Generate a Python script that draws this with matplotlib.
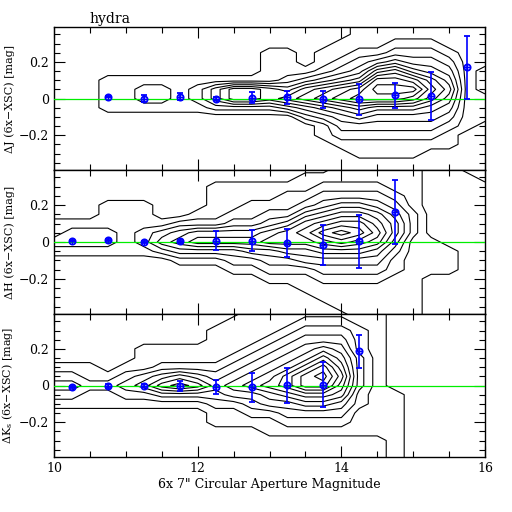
import numpy as np
import matplotlib.pyplot as plt
from matplotlib.ticker import MultipleLocator, FixedLocator, FuncFormatter

plt.rcParams['font.family'] = ['DejaVu Serif']
plt.rcParams['mathtext.fontset'] = 'dejavuserif'

# grid on which the density levels were read (columns = magnitude, rows = delta)
grid_x = [10.0, 10.25, 10.5, 10.75, 11.0, 11.25, 11.5, 11.75, 12.0, 12.25, 12.5, 12.75,
          13.0, 13.25, 13.5, 13.75, 14.0, 14.25, 14.5, 14.75, 15.0, 15.25, 15.5, 15.75, 16.0]
grid_y = [0.40, 0.35, 0.30, 0.25, 0.20, 0.15, 0.10, 0.05, 0.00,
          -0.05, -0.10, -0.15, -0.20, -0.25, -0.30, -0.35, -0.40]

# contour level reached in each cell, one list per column (top row first)
j_levels = [
    [0, 0, 0, 0, 0, 0, 0, 0, 0, 0, 0, 0, 0, 0, 0, 0, 0],
    [0, 0, 0, 0, 0, 0, 0, 0, 0, 0, 0, 0, 0, 0, 0, 0, 0],
    [0, 0, 0, 0, 0, 0, 0, 0, 0, 0, 0, 0, 0, 0, 0, 0, 0],
    [0, 0, 0, 0, 0, 0, 1, 1, 1, 1, 0, 0, 0, 0, 0, 0, 0],
    [0, 0, 0, 0, 0, 0, 1, 1, 1, 1, 0, 0, 0, 0, 0, 0, 0],
    [0, 0, 0, 0, 0, 0, 1, 2, 2, 1, 0, 0, 0, 0, 0, 0, 0],
    [0, 0, 0, 0, 0, 0, 1, 2, 2, 1, 0, 0, 0, 0, 0, 0, 0],
    [0, 0, 0, 0, 0, 0, 1, 1, 1, 1, 0, 0, 0, 0, 0, 0, 0],
    [0, 0, 0, 0, 0, 0, 1, 2, 2, 1, 0, 0, 0, 0, 0, 0, 0],
    [0, 0, 0, 0, 0, 0, 1, 4, 4, 2, 0, 0, 0, 0, 0, 0, 0],
    [0, 0, 0, 0, 0, 0, 1, 6, 6, 2, 0, 0, 0, 0, 0, 0, 0],
    [0, 0, 0, 0, 0, 0, 1, 6, 6, 2, 0, 0, 0, 0, 0, 0, 0],
    [0, 0, 0, 1, 1, 1, 1, 5, 5, 2, 0, 0, 0, 0, 0, 0, 0],
    [0, 0, 0, 1, 1, 1, 2, 4, 6, 3, 0, 0, 0, 0, 0, 0, 0],
    [0, 0, 0, 0, 0, 1, 3, 6, 7, 4, 2, 0, 0, 0, 0, 0, 0],
    [0, 0, 0, 1, 1, 2, 4, 7, 8, 5, 3, 1, 1, 0, 0, 0, 0],
    [0, 0, 1, 1, 2, 3, 5, 8, 9, 6, 4, 3, 2, 1, 0, 0, 0],
    [1, 1, 1, 2, 3, 4, 6, 9, 10, 7, 5, 3, 2, 1, 1, 0, 0],
    [1, 1, 1, 2, 4, 7, 10, 11, 10, 6, 4, 3, 2, 1, 1, 0, 0],
    [1, 1, 2, 3, 5, 8, 10, 11, 10, 6, 4, 3, 2, 1, 1, 0, 0],
    [1, 1, 2, 3, 4, 6, 9, 11, 9, 6, 4, 3, 2, 1, 1, 0, 0],
    [1, 1, 2, 3, 4, 5, 7, 8, 7, 5, 4, 3, 2, 1, 0, 0, 0],
    [1, 1, 1, 2, 3, 4, 5, 6, 5, 4, 3, 2, 1, 1, 0, 0, 0],
    [1, 1, 1, 1, 1, 1, 1, 1, 1, 1, 1, 1, 0, 0, 0, 0, 0],
    [1, 1, 1, 1, 1, 2, 2, 2, 1, 1, 1, 0, 0, 0, 0, 0, 0],
]

h_levels = [
    [0, 0, 0, 0, 0, 0, 1, 1, 2, 1, 0, 0, 0, 0, 0, 0, 0],
    [0, 0, 0, 0, 0, 0, 1, 2, 2, 1, 0, 0, 0, 0, 0, 0, 0],
    [0, 0, 0, 0, 0, 0, 1, 2, 2, 1, 0, 0, 0, 0, 0, 0, 0],
    [0, 0, 0, 0, 1, 1, 1, 2, 2, 1, 0, 0, 0, 0, 0, 0, 0],
    [0, 0, 0, 0, 1, 1, 1, 1, 1, 1, 0, 0, 0, 0, 0, 0, 0],
    [0, 0, 0, 0, 1, 1, 1, 2, 2, 1, 0, 0, 0, 0, 0, 0, 0],
    [0, 0, 0, 0, 0, 0, 1, 3, 4, 2, 0, 0, 0, 0, 0, 0, 0],
    [0, 0, 0, 0, 0, 0, 2, 4, 5, 3, 1, 0, 0, 0, 0, 0, 0],
    [0, 0, 0, 0, 0, 1, 2, 5, 6, 3, 1, 0, 0, 0, 0, 0, 0],
    [0, 0, 1, 1, 1, 1, 2, 5, 6, 3, 1, 0, 0, 0, 0, 0, 0],
    [0, 0, 1, 1, 1, 2, 3, 5, 6, 3, 2, 1, 0, 0, 0, 0, 0],
    [0, 0, 1, 1, 2, 2, 3, 5, 6, 4, 2, 1, 0, 0, 0, 0, 0],
    [0, 0, 1, 1, 2, 3, 4, 6, 7, 4, 3, 2, 1, 0, 0, 0, 0],
    [0, 0, 1, 2, 2, 3, 5, 7, 7, 5, 3, 2, 1, 0, 0, 0, 0],
    [0, 1, 1, 2, 3, 5, 7, 8, 7, 5, 4, 2, 1, 1, 0, 0, 0],
    [0, 1, 2, 3, 4, 6, 8, 10, 8, 6, 4, 3, 2, 1, 1, 0, 0],
    [1, 1, 2, 3, 5, 7, 9, 11, 9, 6, 4, 3, 2, 1, 1, 1, 0],
    [1, 1, 2, 3, 5, 7, 9, 10, 8, 6, 4, 3, 2, 1, 1, 1, 1],
    [1, 1, 2, 3, 4, 6, 7, 8, 7, 5, 4, 3, 2, 1, 1, 1, 1],
    [1, 1, 1, 2, 3, 4, 5, 5, 4, 3, 2, 2, 1, 1, 1, 1, 1],
    [1, 1, 1, 1, 1, 2, 2, 2, 1, 1, 1, 1, 1, 1, 1, 1, 1],
    [0, 0, 0, 0, 0, 0, 0, 0, 1, 1, 1, 1, 0, 0, 0, 0, 0],
    [0, 0, 0, 0, 0, 0, 0, 0, 0, 1, 1, 1, 0, 0, 0, 0, 0],
    [1, 0, 0, 0, 0, 0, 0, 0, 0, 0, 0, 0, 0, 0, 0, 0, 0],
    [1, 1, 0, 0, 0, 0, 0, 0, 0, 0, 0, 0, 0, 0, 0, 0, 0],
]

k_levels = [
    [0, 0, 0, 0, 0, 0, 1, 2, 3, 2, 1, 0, 0, 0, 0, 0, 0],
    [0, 0, 0, 0, 0, 0, 1, 2, 3, 2, 1, 0, 0, 0, 0, 0, 0],
    [0, 0, 0, 0, 0, 0, 1, 1, 2, 1, 1, 0, 0, 0, 0, 0, 0],
    [0, 0, 0, 0, 0, 0, 0, 1, 2, 1, 1, 0, 0, 0, 0, 0, 0],
    [0, 0, 0, 0, 0, 0, 1, 2, 3, 2, 1, 0, 0, 0, 0, 0, 0],
    [0, 0, 0, 0, 1, 1, 1, 3, 4, 2, 1, 0, 0, 0, 0, 0, 0],
    [0, 0, 0, 0, 1, 1, 2, 4, 6, 3, 1, 0, 0, 0, 0, 0, 0],
    [0, 0, 0, 0, 1, 1, 2, 5, 7, 3, 1, 0, 0, 0, 0, 0, 0],
    [0, 0, 0, 0, 1, 1, 2, 4, 6, 3, 1, 0, 0, 0, 0, 0, 0],
    [0, 0, 1, 1, 1, 1, 2, 3, 4, 3, 2, 1, 1, 0, 0, 0, 0],
    [0, 1, 1, 1, 1, 2, 3, 4, 5, 4, 2, 1, 1, 0, 0, 0, 0],
    [1, 1, 1, 1, 2, 3, 4, 5, 6, 4, 3, 2, 1, 0, 0, 0, 0],
    [1, 1, 1, 2, 3, 4, 5, 6, 7, 5, 4, 2, 1, 1, 0, 0, 0],
    [1, 1, 2, 3, 4, 5, 6, 8, 8, 6, 4, 3, 2, 1, 0, 0, 0],
    [1, 2, 3, 4, 5, 6, 8, 10, 10, 7, 5, 3, 2, 1, 0, 0, 0],
    [1, 2, 3, 4, 6, 8, 10, 11, 10, 7, 5, 3, 2, 1, 0, 0, 0],
    [1, 2, 3, 4, 5, 6, 7, 8, 7, 6, 4, 3, 2, 1, 0, 0, 0],
    [1, 1, 2, 2, 2, 3, 3, 3, 3, 2, 2, 1, 1, 1, 0, 0, 0],
    [1, 1, 1, 1, 1, 1, 1, 1, 1, 1, 1, 1, 1, 1, 0, 0, 0],
    [0, 0, 0, 0, 0, 0, 0, 0, 0, 1, 1, 1, 1, 1, 1, 1, 1],
    [0, 0, 0, 0, 0, 0, 0, 0, 0, 0, 0, 0, 0, 0, 0, 0, 0],
    [0, 0, 0, 0, 0, 0, 0, 0, 0, 0, 0, 0, 0, 0, 0, 0, 0],
    [0, 0, 0, 0, 0, 0, 0, 0, 0, 0, 0, 0, 0, 0, 0, 0, 0],
    [0, 0, 0, 0, 0, 0, 0, 0, 0, 0, 0, 0, 0, 0, 0, 0, 0],
    [0, 0, 0, 0, 0, 0, 0, 0, 0, 0, 0, 0, 0, 0, 0, 0, 0],
]

# binned means with error bars
j_x = [10.75, 11.25, 11.75, 12.25, 12.75, 13.25, 13.75, 14.25, 14.75, 15.25, 15.75]
j_y = [0.01, 0.0, 0.01, 0.0, 0.005, 0.007, -0.005, -0.005, 0.017, 0.013, 0.17]
j_err = [0.004, 0.02, 0.02, 0.008, 0.028, 0.036, 0.045, 0.085, 0.068, 0.13, 0.17]

h_x = [10.25, 10.75, 11.25, 11.75, 12.25, 12.75, 13.25, 13.75, 14.25, 14.75]
h_y = [0.008, 0.01, 0.0, 0.003, 0.007, 0.007, -0.005, -0.016, 0.003, 0.163]
h_err = [0.004, 0.004, 0.004, 0.01, 0.052, 0.058, 0.074, 0.11, 0.144, 0.172]

k_x = [10.25, 10.75, 11.25, 11.75, 12.25, 12.75, 13.25, 13.75, 14.25]
k_y = [-0.007, -0.003, 0.0, -0.003, -0.008, -0.01, 0.001, 0.005, 0.186]
k_err = [0.004, 0.01, 0.008, 0.025, 0.04, 0.078, 0.095, 0.122, 0.091]

ylabels = ['ΔJ (6x−XSC) [mag]', 'ΔH (6x−XSC) [mag]', r'ΔK$_{\rm s}$ (6x−XSC) [mag]']


def fmt_y(v, pos):
    if abs(v) < 1e-9:
        return '0'
    return f'{v:.1f}'.replace('-', '−')


def draw_panel(ax, levels, px, py, perr, ylabel):
    z = np.array(levels, dtype=float).T
    ax.contour(grid_x, grid_y, z, levels=np.arange(0.5, 12, 1.0),
               colors='black', linewidths=0.8)
    ax.axhline(0, color='#00ee00', lw=0.9, zorder=3)
    ax.errorbar(px, py, yerr=perr, fmt='o', ms=4.5, mfc='none', mec='blue', mew=1.3,
                ecolor='blue', elinewidth=1.2, capsize=2.5, capthick=1.2, zorder=4)
    ax.plot(px, py, '+', color='blue', ms=4.5, mew=1.0, zorder=5)
    ax.set_xlim(10, 16)
    ax.set_ylim(-0.39, 0.39)
    ax.xaxis.set_major_locator(FixedLocator([10, 12, 14, 16]))
    ax.xaxis.set_minor_locator(MultipleLocator(0.5))
    ax.yaxis.set_major_locator(FixedLocator([-0.2, 0, 0.2]))
    ax.yaxis.set_minor_locator(MultipleLocator(0.05))
    ax.yaxis.set_major_formatter(FuncFormatter(fmt_y))
    ax.tick_params(which='both', direction='in', top=True, right=True, width=0.8,
                   labelsize=9)
    ax.tick_params(which='major', length=8)
    ax.tick_params(which='minor', length=4)
    ax.set_ylabel(ylabel, fontsize=8, labelpad=3)
    for s in ax.spines.values():
        s.set_linewidth(1.0)


fig = plt.figure(figsize=(5.12, 5.12), dpi=100)
left, width = 54 / 512, 431 / 512
bottoms = [1 - 170 / 512, 1 - 314 / 512, 1 - 457 / 512]
heights = [143 / 512, 144 / 512, 143 / 512]

panels = [(j_levels, j_x, j_y, j_err), (h_levels, h_x, h_y, h_err),
          (k_levels, k_x, k_y, k_err)]
axes = []
for i, (lev, px, py, pe) in enumerate(panels):
    ax = fig.add_axes([left, bottoms[i], width, heights[i]])
    draw_panel(ax, lev, px, py, pe, ylabels[i])
    if i < 2:
        ax.tick_params(labelbottom=False)
    axes.append(ax)

axes[0].text(10.5, 0.395, 'hydra', fontsize=10, ha='left', va='bottom')
axes[2].set_xlabel('6x 7" Circular Aperture Magnitude', fontsize=9, labelpad=2)
fig.align_ylabels(axes)

fig.savefig('out.png', dpi=100)
